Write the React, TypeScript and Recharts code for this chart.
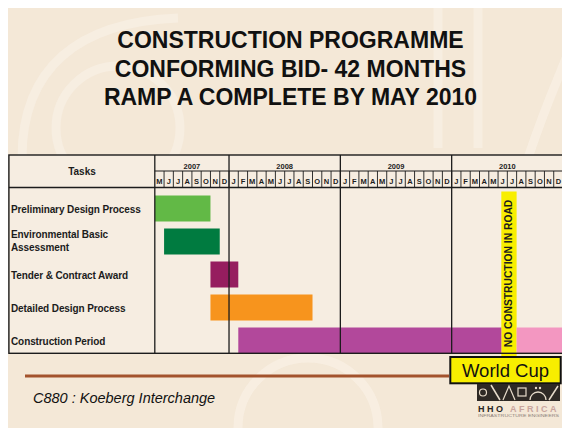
import React from 'react';
import { BarChart, Bar, XAxis, YAxis, Cell, ReferenceArea } from 'recharts';

const TITLE_LINES = [
  'CONSTRUCTION PROGRAMME',
  'CONFORMING BID- 42 MONTHS',
  'RAMP A COMPLETE BY MAY 2010',
];

const TASKS = [
  'Preliminary Design Process',
  'Environmental Basic Assessment',
  'Tender & Contract Award',
  'Detailed Design Process',
  'Construction Period',
];
// months counted from the start of May 2007
const START = [0, 1, 6, 6, 9];
const END = [6, 7, 9, 17, 37.35];
// construction stops for the World Cup, then resumes
const RESUME = [0, 0, 0, 0, 39];
const FINISH = [0, 0, 0, 0, 44];
const BAR_COLORS = ['#62b946', '#007b40', '#961d5f', '#f7941d', '#b2489b'];
const AFTER_CUP_COLOR = '#f397c1';

const YEARS = ['2007', '2008', '2009', '2010'];
const YEAR_MONTHS = [8, 12, 12, 12];
const MONTH_LETTERS = ['J', 'F', 'M', 'A', 'M', 'J', 'J', 'A', 'S', 'O', 'N', 'D'];
const FIRST_MONTH = 4; // May

const NO_ROAD_WORK = [37.35, 39];

const TOTAL = YEAR_MONTHS.reduce((a, b) => a + b, 0);
const YEAR_STARTS = YEAR_MONTHS.map((_, i) => YEAR_MONTHS.slice(0, i).reduce((a, b) => a + b, 0));
const MONTH_TICKS = Array.from({ length: TOTAL }, (_, i) => i);

const rows = TASKS.map((task, i) => ({
  task,
  offset: START[i],
  span: END[i] - START[i],
  pause: RESUME[i] ? RESUME[i] - END[i] : 0,
  after: FINISH[i] ? FINISH[i] - RESUME[i] : 0,
}));

// layout (inside the 562x420 slide)
const W = 562;
const H = 420;
const PLOT_L = 146.8;
const PLOT_R = 555;
const PLOT_T = 183.5;
const PLOT_B = 348.5;
const TABLE_L = 0.9;
const TABLE_T = 147;
const MONTH_T = 163;
const HEAD_B = 179.5;
const TABLE_B = 345.3;
const MW = (PLOT_R - PLOT_L) / TOTAL;

const FONT = '"Liberation Sans", Arial, sans-serif';
const INK = '#1c1c1c';

const YearTick = (props: any) => {
  const { x, payload } = props;
  const i = YEAR_STARTS.indexOf(payload.value);
  return (
    <g>
      <line x1={x} x2={x} y1={TABLE_T} y2={TABLE_B} stroke={INK} strokeWidth={1.3} />
      <text x={x + (YEAR_MONTHS[i] * MW) / 2} y={160.8} textAnchor="middle" fontSize={7.5}
        fontWeight={700} fill={INK} fontFamily={FONT}>
        {YEARS[i]}
      </text>
    </g>
  );
};

const MonthTick = (props: any) => {
  const { x, payload } = props;
  const i = payload.value;
  return (
    <g>
      {i > 0 && <line x1={x} x2={x} y1={MONTH_T} y2={HEAD_B} stroke={INK} strokeWidth={0.9} />}
      <text x={x + MW / 2} y={176} textAnchor="middle" fontSize={7.5} fontWeight={700}
        fill={INK} fontFamily={FONT}>
        {MONTH_LETTERS[(FIRST_MONTH + i) % 12]}
      </text>
    </g>
  );
};

const TaskTick = (props: any) => {
  const { y, payload } = props;
  const label: string = payload.value;
  let lines = [label];
  if (label.length > 27) {
    const cut = label.lastIndexOf(' ');
    lines = [label.slice(0, cut), label.slice(cut + 1)];
  }
  return (
    <text x={3} fontSize={10} fontWeight={700} fill={INK} fontFamily={FONT} letterSpacing={-0.1}>
      {lines.map((l, k) => (
        <tspan key={k} x={3} y={lines.length === 1 ? y + 5 : y + 3.7 + (k - 0.5) * 12.7}>
          {l}
        </tspan>
      ))}
    </text>
  );
};

const NoRoadLabel = (props: any) => {
  const { x, y, width, height } = props.viewBox;
  const cx = x + width / 2;
  const cy = y + height / 2 - 0.5;
  return (
    <text x={cx} y={cy} transform={`rotate(-90 ${cx} ${cy})`} textAnchor="middle"
      dominantBaseline="central" fontSize={10.3} fontWeight={700} fill={INK} fontFamily={FONT}>
      NO CONSTRUCTION IN ROAD
    </text>
  );
};

const Logo = () => (
  <g>
    <rect x={469} y={376} width={83} height={17} fill="#2e2925" />
    <circle cx={475} cy={384.5} r={3.5} fill="none" stroke="#e8dccb" strokeWidth={1.2} />
    <line x1={483} y1={377} x2={492} y2={392} stroke="#e8dccb" strokeWidth={1.5} />
    <path d="M495 392 L501 378 L507 392" fill="none" stroke="#e8dccb" strokeWidth={1.2} />
    <rect x={510} y={380} width={8} height={8} fill="none" stroke="#e8dccb" strokeWidth={1.2} />
    <path d="M522 392 A8 8 0 0 1 538 392" fill="none" stroke="#e8dccb" strokeWidth={1.3} />
    <line x1={541} y1={392} x2={550} y2={378} stroke="#e8dccb" strokeWidth={1.5} />
    <circle cx={528} cy={380} r={1.2} fill="#e8dccb" />
    <circle cx={532} cy={380} r={1.2} fill="#e8dccb" />
    <text x={470} y={403.7} fontSize={9} fontWeight={700} fontFamily={FONT} letterSpacing={2.6}
      textLength={81} lengthAdjust="spacing">
      <tspan fill="#2a2522">HHO </tspan>
      <tspan fill="#c9a59e">AFRICA</tspan>
    </text>
    <text x={470} y={409} fontSize={3.5} fontFamily={FONT} fill="#8c7f78" textLength={81}
      lengthAdjust="spacingAndGlyphs">
      INFRASTRUCTURE ENGINEERS
    </text>
  </g>
);

export default function App() {
  return (
    <div style={{ position: 'relative', width: W, height: H, background: '#f4e8d7', overflow: 'hidden' }}>
      <svg width={W} height={H} style={{ position: 'absolute', left: 0, top: 0 }}>
        <g fill="none" stroke="#f9f1e6" strokeWidth={9} opacity={0.7}>
          <path d="M14 150 C 14 60, 70 14, 170 10" />
          <circle cx={110} cy={120} r={62} />
          <path d="M430 0 L430 140 M470 0 L470 140" />
          <circle cx={300} cy={420} r={70} />
          <path d="M520 150 C 540 90, 555 60, 562 40" />
        </g>
        <rect x={TABLE_L} y={TABLE_T} width={PLOT_R - TABLE_L} height={TABLE_B - TABLE_T} fill="#f6ede1" />
      </svg>
      <div style={{ position: 'absolute', left: 0, top: 0 }}>
        <BarChart width={W} height={H} data={rows} layout="vertical"
          margin={{ top: TABLE_T, right: W - PLOT_R, bottom: H - PLOT_B, left: 0 }}>
          <YAxis type="category" dataKey="task" width={PLOT_L} axisLine={false} tickLine={false}
            interval={0} tick={(p: any) => <TaskTick {...p} />} />
          <ReferenceArea xAxisId="m" x1={NO_ROAD_WORK[0]} x2={NO_ROAD_WORK[1]} fill="#f8ee00"
            fillOpacity={1} stroke="none" ifOverflow="visible" label={<NoRoadLabel />} />
          <Bar dataKey="offset" stackId="g" xAxisId="m" fill="transparent" barSize={26} isAnimationActive={false} />
          <Bar dataKey="span" stackId="g" xAxisId="m" barSize={26} isAnimationActive={false}>
            {rows.map((_, i) => (
              <Cell key={i} fill={BAR_COLORS[i]} />
            ))}
          </Bar>
          <Bar dataKey="pause" stackId="g" xAxisId="m" fill="transparent" barSize={26} isAnimationActive={false} />
          <Bar dataKey="after" stackId="g" xAxisId="m" fill={AFTER_CUP_COLOR} barSize={26} isAnimationActive={false} />
          <XAxis xAxisId="m" type="number" domain={[0, TOTAL]} ticks={MONTH_TICKS} orientation="top"
            height={20} axisLine={false} tickLine={false} interval={0} allowDataOverflow
            tick={(p: any) => <MonthTick {...p} />} />
          <XAxis xAxisId="y" type="number" domain={[0, TOTAL]} ticks={YEAR_STARTS} orientation="top"
            height={PLOT_T - TABLE_T - 20} axisLine={false} tickLine={false} interval={0} allowDataOverflow
            tick={(p: any) => <YearTick {...p} />} />
        </BarChart>
      </div>
      <svg width={W} height={H} style={{ position: 'absolute', left: 0, top: 0, pointerEvents: 'none' }}
        fontFamily={FONT}>
        {TITLE_LINES.map((t, i) => (
          <text key={t} x={282.5} y={40 + i * 28.7} textAnchor="middle" fontSize={23} fontWeight={700} fill="#111">
            {t}
          </text>
        ))}
        <rect x={TABLE_L} y={TABLE_T} width={PLOT_R - TABLE_L} height={TABLE_B - TABLE_T} fill="none"
          stroke={INK} strokeWidth={1.4} />
        <line x1={PLOT_L} x2={PLOT_R} y1={MONTH_T} y2={MONTH_T} stroke={INK} strokeWidth={1.1} />
        <line x1={TABLE_L} x2={PLOT_R} y1={HEAD_B} y2={HEAD_B} stroke={INK} strokeWidth={1.4} />
        <text x={74} y={167.1} textAnchor="middle" fontSize={10} fontWeight={700} fill={INK}>Tasks</text>
        <rect x={17} y={366.5} width={424} height={3} fill="#a3532d" />
        <text x={25} y={394.7} fontSize={14.5} fontStyle="italic" fill="#111">C880 : Koeberg Interchange</text>
        <rect x={442.3} y={349} width={110.4} height={26.3} fill="#f8ee00" stroke="#111" strokeWidth={2} />
        <text x={497.5} y={368.7} textAnchor="middle" fontSize={18.5} fill="#111">World Cup</text>
        <Logo />
      </svg>
    </div>
  );
}
